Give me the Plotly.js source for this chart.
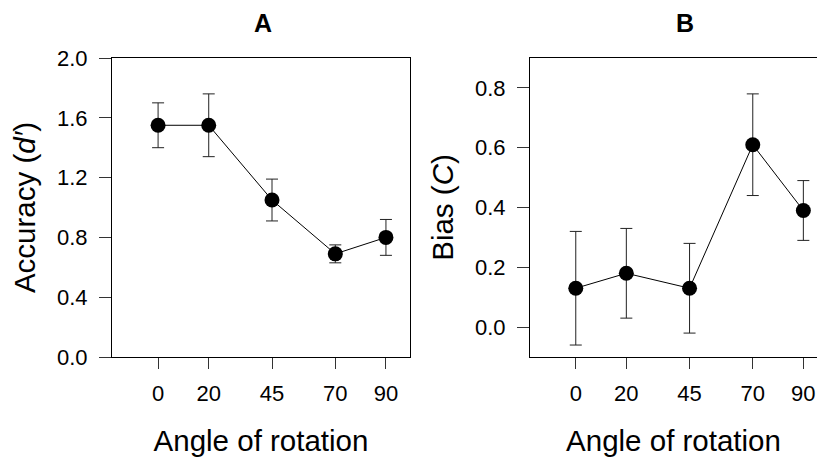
<!DOCTYPE html>
<html>
<head>
<meta charset="utf-8">
<script src="https://cdn.plot.ly/plotly-3.0.1.min.js"></script>
<style>html,body{margin:0;padding:0;background:#fff;}#chart{width:817px;height:457px;}</style>
</head>
<body>
<div id="chart"></div>
<script>
const angles = [0, 20, 45, 70, 90];
const angleTickLabels = ['0', '20', '45', '70', '90'];
const accuracy = [1.55, 1.55, 1.05, 0.69, 0.80];
const accuracyUpper = [1.70, 1.76, 1.19, 0.75, 0.92];
const accuracyLower = [1.40, 1.34, 0.91, 0.63, 0.68];
const bias = [0.13, 0.18, 0.13, 0.61, 0.39];
const biasUpper = [0.32, 0.33, 0.28, 0.78, 0.49];
const biasLower = [-0.06, 0.03, -0.02, 0.44, 0.29];
const accuracyTicks = [0, 0.4, 0.8, 1.2, 1.6, 2.0];
const biasTicks = [0, 0.2, 0.4, 0.6, 0.8];

const W = 817, H = 457;
const FONT = 'Liberation Sans, Arial, Helvetica, sans-serif';
const fx = p => p / W;
const fy = p => 1 - p / H;

function errs(v, up, lo) {
  return {
    type: 'data', symmetric: false,
    array: v.map((d, i) => +(up[i] - d).toFixed(4)),
    arrayminus: v.map((d, i) => +(d - lo[i]).toFixed(4)),
    color: '#222', thickness: 1, width: 6
  };
}

const traceA = {
  x: angles, y: accuracy, xaxis: 'x', yaxis: 'y',
  type: 'scatter', mode: 'lines+markers',
  line: {color: '#000', width: 1},
  marker: {color: '#000', size: 15},
  error_y: errs(accuracy, accuracyUpper, accuracyLower),
  showlegend: false, hoverinfo: 'x+y'
};
const traceB = {
  x: angles, y: bias, xaxis: 'x2', yaxis: 'y2',
  type: 'scatter', mode: 'lines+markers',
  line: {color: '#000', width: 1},
  marker: {color: '#000', size: 15},
  error_y: errs(bias, biasUpper, biasLower),
  showlegend: false, hoverinfo: 'x+y'
};

const tickFont = {family: FONT, size: 22, color: '#000'};
const titleFont = {family: FONT, size: 29.5, color: '#000'};

function xAx(domain, range, anchor) {
  return {
    domain: domain, range: range, anchor: anchor,
    tickmode: 'array', tickvals: angles, ticktext: angleTickLabels,
    ticks: 'outside', ticklen: 11, tickwidth: 1, tickcolor: '#333',
    showline: true, mirror: true, linecolor: '#000', linewidth: 1,
    showgrid: false, zeroline: false,
    tickfont: tickFont, ticklabelstandoff: 6,
    title: {text: 'Angle of rotation', font: titleFont, standoff: 25},
    fixedrange: true
  };
}
function yAx(domain, range, anchor, tickvals, title, mirror) {
  return {
    domain: domain, range: range, anchor: anchor,
    tickmode: 'array', tickvals: tickvals, ticktext: tickvals.map(v => v.toFixed(1)),
    ticks: 'outside', ticklen: 12, tickwidth: 1, tickcolor: '#333',
    showline: true, mirror: mirror, linecolor: '#000', linewidth: 1,
    showgrid: false, zeroline: false,
    tickfont: tickFont, ticklabelstandoff: 7,
    title: {text: title, font: titleFont, standoff: 12},
    fixedrange: true
  };
}

const layout = {
  width: W, height: H,
  margin: {l: 0, r: 0, t: 0, b: 0},
  paper_bgcolor: '#fff', plot_bgcolor: '#fff',
  font: {family: FONT, color: '#000'},
  xaxis: xAx([fx(112), fx(410)], [-18.2, 99.5], 'y'),
  yaxis: yAx([fy(357), fy(58)], [0, 2.0], 'x', accuracyTicks, 'Accuracy (<i>d′</i>)', true),
  xaxis2: xAx([fx(530), 1], [-18.1, 95.4], 'y2'),
  yaxis2: yAx([fy(357), fy(58)], [-0.1, 0.9], 'x2', biasTicks, 'Bias (<i>C</i>)', false),
  annotations: [
    {text: '<b>A</b>', xref: 'paper', yref: 'paper', x: fx(263), y: fy(23),
     xanchor: 'center', yanchor: 'middle', showarrow: false, font: {family: FONT, size: 25, color: '#000'}},
    {text: '<b>B</b>', xref: 'paper', yref: 'paper', x: fx(685), y: fy(23),
     xanchor: 'center', yanchor: 'middle', showarrow: false, font: {family: FONT, size: 25, color: '#000'}}
  ]
};

Plotly.newPlot('chart', [traceA, traceB], layout, {displayModeBar: false, staticPlot: true});
</script>
</body>
</html>
